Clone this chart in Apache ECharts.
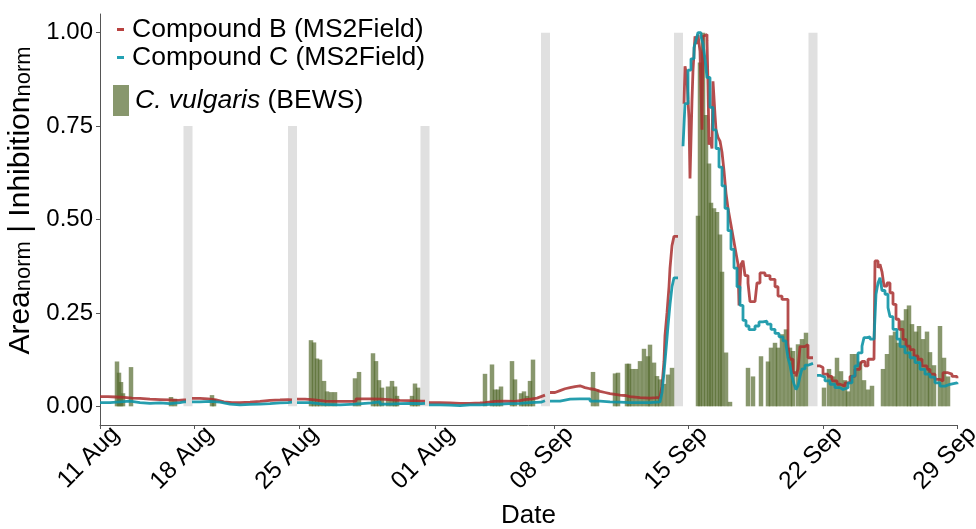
<!DOCTYPE html>
<html>
<head>
<meta charset="utf-8">
<script src="https://cdn.jsdelivr.net/npm/echarts@6/dist/echarts.min.js"></script>
<style>
  html, body { margin: 0; padding: 0; background: #fff; }
  #chart { width: 976px; height: 529px; }
</style>
</head>
<body>
<div id="chart"></div>
<script>
// x is the sample index of the record (the date axis is not linear in time)
var dateTicks = [0, 94, 199, 335, 454, 588, 723, 857];
var dateLabels = ["11 Aug", "18 Aug", "25 Aug", "01 Aug", "08 Sep", "15 Sep", "22 Sep", "29 Sep"];
var yTicks = [0, 0.25, 0.5, 0.75, 1];

// data gaps (grey bands): sample index and height
var gapIdx = [88, 192.5, 325, 445.5, 578.5, 713];
var gapVal = [0.75, 0.75, 0.75, 1, 1, 1];

// C. vulgaris inhibition (BEWS)
var vulgaris = [
  [17, 0.12], [19, 0.09], [21, 0.065], [23, 0.035], [31, 0.105], [71, 0.025], [75, 0.02],
  [112, 0.03], [114, 0.02],
  [211, 0.177], [214, 0.171], [217, 0.128], [220, 0.125], [224, 0.068], [227, 0.04], [231, 0.038], [235, 0.038],
  [255, 0.075], [259, 0.092], [273, 0.142], [276, 0.121], [279, 0.07], [282, 0.05],
  [288, 0.053], [292, 0.068], [295, 0.053], [297, 0.028], [312, 0.028], [315, 0.061], [318, 0.05],
  [385, 0.087], [392, 0.112], [395, 0.045], [398, 0.045], [401, 0.053], [412, 0.121], [415, 0.072],
  [421, 0.035], [424, 0.04], [427, 0.028], [430, 0.068], [433, 0.125],
  [493, 0.092], [497, 0.045], [515, 0.088], [518, 0.09],
  [527, 0.114], [529, 0.114], [532, 0.1], [536, 0.1], [540, 0.121], [544, 0.154], [548, 0.134], [550, 0.165],
  [554, 0.117], [557, 0.081], [560, 0.072], [564, 0.06], [568, 0.085], [572, 0.103],
  [598, 0.51], [600, 0.92], [603, 1.0], [606, 0.78], [609, 0.65], [611, 0.545], [614, 0.53], [617, 0.52],
  [620, 0.46], [622, 0.36], [626, 0.144], [630, 0.012],
  [648, 0.103], [653, 0.08], [661, 0.134], [668, 0.12], [671, 0.157], [675, 0.17], [678, 0.157], [682, 0.193],
  [686, 0.206], [690, 0.157], [693, 0.148], [698, 0.166], [702, 0.18], [706, 0.197],
  [724, 0.05], [729, 0.1], [733, 0.08], [737, 0.13], [741, 0.094], [745, 0.07], [748, 0.04], [752, 0.14],
  [756, 0.14], [760, 0.12], [764, 0.07], [768, 0.045], [772, 0.055],
  [783, 0.1], [787, 0.14], [791, 0.19], [795, 0.2], [798, 0.17], [802, 0.23], [806, 0.26], [809, 0.27],
  [812, 0.22], [816, 0.2], [819, 0.215], [823, 0.18], [827, 0.2], [830, 0.145], [834, 0.11], [840, 0.215],
  [844, 0.13], [848, 0.08]
];

// Compound B (MS2Field), null = no data
var compoundB = [
  [0, 0.026], [8, 0.025], [16, 0.024], [24, 0.022], [32, 0.021], [40, 0.019], [50, 0.018], [60, 0.017],
  [70, 0.016], [78, 0.017], [84, 0.017], [86, null],
  [92, 0.021], [100, 0.02], [108, 0.017], [116, 0.012], [124, 0.01], [132, 0.01], [140, 0.011], [150, 0.013],
  [160, 0.016], [170, 0.017], [180, 0.018], [188, 0.017], [192, null],
  [197, 0.019], [205, 0.018], [212, 0.014], [225, 0.013], [240, 0.013], [250, 0.014], [256, 0.02], [265, 0.02],
  [272, 0.019], [282, 0.017], [292, 0.016], [300, 0.015], [310, 0.014], [321, 0.014], [325, null],
  [329, 0.01], [340, 0.009], [350, 0.008], [360, 0.008], [370, 0.009], [380, 0.01], [385, 0.013], [395, 0.014],
  [405, 0.013], [415, 0.015], [420, 0.018], [425, 0.02], [432, 0.022], [437, 0.026], [441, 0.03], [445, null],
  [450, 0.037], [455, 0.042], [460, 0.047], [465, 0.05], [470, 0.053], [475, 0.055], [480, 0.05], [485, 0.047],
  [490, 0.045], [495, 0.04], [500, 0.037], [505, 0.034], [510, 0.032], [515, 0.03], [520, 0.029], [525, 0.026],
  [530, 0.023], [540, 0.022], [550, 0.023], [556, 0.024], [560, 0.026], [562, 0.054], [564, 0.12], [565, 0.19],
  [567, 0.25], [569, 0.32], [570, 0.37], [572, 0.43], [574, 0.455], [578, null],
  [584, 0.81], [585, 0.91], [587, 0.88], [588, 0.82], [589, 0.77], [590, 0.61], [592, 0.82], [593, 0.9],
  [595, 0.99], [597, 0.97], [598, 0.995], [600, 0.95], [602, 0.74], [603, 0.99], [605, 0.995], [607, 0.98],
  [608, 0.86], [609, 0.7], [610, 0.72], [612, 0.69], [613, 0.87], [615, 0.78], [616, 0.74], [618, 0.72],
  [620, 0.71], [622, 0.68], [624, 0.63], [626, 0.57], [628, 0.53], [630, 0.5], [632, 0.47], [634, 0.44],
  [636, 0.41], [638, 0.38], [639, 0.27], [641, 0.38], [643, 0.39], [645, 0.35], [648, 0.33], [650, 0.28],
  [655, 0.28], [657, 0.33], [660, 0.357], [665, 0.35], [670, 0.34], [675, 0.32], [678, 0.295], [682, 0.286],
  [688, 0.17], [689, 0.135], [690, 0.126], [693, 0.09], [696, 0.08], [698, 0.1], [700, 0.16], [705, 0.165],
  [708, 0.13], [713, null],
  [717, 0.108], [720, 0.104], [723, 0.086], [728, 0.08], [732, 0.068], [737, 0.059], [740, 0.054], [745, 0.063],
  [750, 0.08], [755, 0.099], [760, 0.112], [762, 0.12], [765, 0.108], [768, 0.126], [774, 0.126], [775, 0.389],
  [778, 0.371], [780, 0.38], [782, 0.36], [784, 0.322], [787, 0.33], [790, 0.304], [793, 0.273], [796, 0.233],
  [799, 0.206], [803, 0.179], [806, 0.161], [810, 0.152], [814, 0.135], [818, 0.126], [822, 0.108], [827, 0.099],
  [830, 0.086], [835, 0.072], [840, 0.068], [843, 0.09], [848, 0.086], [852, 0.08], [857, 0.075]
];

// Compound C (MS2Field)
var compoundC = [
  [0, 0.01], [10, 0.012], [20, 0.014], [30, 0.01], [40, 0.008], [50, 0.009], [60, 0.007], [70, 0.01],
  [80, 0.012], [84, 0.012], [86, null],
  [92, 0.012], [100, 0.013], [110, 0.011], [120, 0.006], [130, 0.004], [140, 0.005], [150, 0.006], [160, 0.007],
  [170, 0.009], [180, 0.01], [188, 0.011], [192, null],
  [197, 0.01], [210, 0.005], [225, 0.004], [240, 0.006], [255, 0.008], [265, 0.009], [272, 0.012], [280, 0.006],
  [290, 0.007], [300, 0.008], [310, 0.007], [321, 0.008], [325, null],
  [329, 0.004], [340, 0.003], [350, 0.002], [360, 0.004], [370, 0.004], [380, 0.005], [390, 0.006], [400, 0.007],
  [410, 0.008], [420, 0.01], [430, 0.011], [441, 0.015], [445, null],
  [450, 0.014], [460, 0.019], [470, 0.02], [480, 0.02], [490, 0.014], [500, 0.012], [510, 0.011], [520, 0.01],
  [530, 0.01], [540, 0.01], [550, 0.012], [560, 0.013], [562, 0.037], [564, 0.09], [566, 0.152], [568, 0.215],
  [570, 0.273], [572, 0.32], [574, 0.344], [578, null],
  [583, 0.696], [585, 0.81], [588, 0.9], [591, 0.93], [594, 0.96], [596, 0.98], [598, 1.0], [601, 0.99],
  [603, 0.97], [605, 0.93], [607, 0.88], [610, 0.8], [613, 0.74], [616, 0.69], [619, 0.64], [622, 0.59],
  [625, 0.53], [628, 0.47], [631, 0.42], [634, 0.37], [637, 0.32], [640, 0.27], [643, 0.23], [646, 0.215],
  [649, 0.205], [652, 0.205], [655, 0.215], [659, 0.226], [663, 0.228], [667, 0.22], [671, 0.206], [675, 0.195],
  [679, 0.186], [683, 0.175], [686, 0.165], [688, 0.13], [690, 0.11], [692, 0.08], [694, 0.06], [696, 0.045],
  [698, 0.055], [700, 0.08], [702, 0.1], [705, 0.11], [708, 0.115], [713, null],
  [717, 0.083], [720, 0.078], [725, 0.068], [730, 0.059], [735, 0.05], [740, 0.045], [743, 0.05], [748, 0.063],
  [752, 0.081], [755, 0.108], [758, 0.143], [762, 0.161], [764, 0.184], [767, 0.186], [770, 0.18], [774, 0.184],
  [776, 0.3], [778, 0.33], [780, 0.344], [782, 0.31], [785, 0.3], [788, 0.264], [790, 0.24], [793, 0.206],
  [797, 0.18], [800, 0.16], [805, 0.143], [810, 0.13], [815, 0.117], [820, 0.099], [825, 0.086], [830, 0.078],
  [835, 0.063], [840, 0.054], [845, 0.059], [850, 0.063], [857, 0.059]
];

var chartDom = document.getElementById("chart");
var myChart = echarts.init(chartDom, null, { renderer: "canvas" });
var option;

var font = "Liberation Sans";

option = {
  animation: false,
  backgroundColor: "#fff",
  textStyle: { fontFamily: font },
  grid: { left: 100, right: 19, top: 14, bottom: 104, outerBoundsMode: "none" },
  legend: [
    {
      data: ["Compound B (MS2Field)", "Compound C (MS2Field)"],
      orient: "vertical",
      left: 112,
      top: 11,
      itemGap: 1,
      itemWidth: 7,
      itemHeight: 3,
      icon: "rect",
      selectedMode: false,
      textStyle: { fontSize: 26.5, lineHeight: 25, color: "#000", padding: [0, 0, 0, 3], fontFamily: font },
    },
    {
      data: ["C. vulgaris (BEWS)"],
      orient: "vertical",
      left: 108,
      top: 80,
      itemWidth: 16,
      itemHeight: 31,
      icon: "rect",
      selectedMode: false,
      formatter: "{i|C. vulgaris} (BEWS)",
      textStyle: {
        fontSize: 26.5,
        color: "#000",
        padding: [0, 0, 0, 1],
        fontFamily: font,
        rich: { i: { fontSize: 26.5, fontStyle: "italic", fontFamily: font, color: "#000" } },
      },
    },
  ],
  xAxis: [
    {
      type: "value",
      min: 0,
      max: 857,
      name: "Date",
      nameLocation: "middle",
      nameGap: 78,
      nameMoveOverlap: false,
      nameTextStyle: { fontSize: 26, color: "#000" },
      axisLine: { onZero: false, lineStyle: { color: "#555", width: 1 } },
      axisTick: { customValues: dateTicks, length: 4, lineStyle: { color: "#555" } },
      axisLabel: {
        customValues: dateTicks,
        rotate: 45,
        fontSize: 24.5,
        color: "#000",
        verticalAlign: "top",
        lineHeight: 44,
        margin: -10,
        formatter: function (v) {
          var i = dateTicks.indexOf(v);
          return i >= 0 ? dateLabels[i] : "";
        },
      },
      splitLine: { show: false },
    },
    {
      type: "value",
      min: 0,
      max: 857,
      show: false,
    },
  ],
  yAxis: {
    type: "value",
    min: -0.05,
    max: 1.05,
    name: "{m|Area}{s|norm}{m| | Inhibition}{s|norm}",
    nameLocation: "middle",
    nameGap: 58,
    nameTextStyle: {
      color: "#000",
      padding: [0, 0, 0, 38],
      rich: {
        m: { fontSize: 30, lineHeight: 30, verticalAlign: "top", color: "#000", fontFamily: font },
        s: { fontSize: 22, lineHeight: 22, verticalAlign: "bottom", color: "#000", fontFamily: font },
      },
    },
    axisLine: { show: true, lineStyle: { color: "#555", width: 1 } },
    axisTick: { show: true, customValues: yTicks, length: 4, lineStyle: { color: "#555" } },
    axisLabel: {
      customValues: yTicks,
      fontSize: 24,
      color: "#000",
      margin: 7,
      formatter: function (v) {
        return v.toFixed(2);
      },
    },
    splitLine: { show: false },
  },
  series: [
    {
      name: "gaps",
      type: "bar",
      xAxisIndex: 1,
      barWidth: 9,
      itemStyle: { color: "#e0e0e0" },
      data: gapIdx.map(function (x, i) {
        return [x, gapVal[i]];
      }),
      z: 1,
    },
    {
      name: "C. vulgaris (BEWS)",
      type: "bar",
      xAxisIndex: 0,
      barWidth: 4.5,
      itemStyle: { color: "#556B2F", opacity: 0.7 },
      data: vulgaris,
      z: 2,
    },
    {
      name: "Compound B (MS2Field)",
      type: "line",
      step: "end",
      showSymbol: false,
      connectNulls: false,
      lineStyle: { color: "#A82E2E", width: 2.8, opacity: 0.85 },
      itemStyle: { color: "#B8413F" },
      data: compoundB,
      z: 3,
    },
    {
      name: "Compound C (MS2Field)",
      type: "line",
      step: "end",
      showSymbol: false,
      connectNulls: false,
      lineStyle: { color: "#0E93A5", width: 2.8, opacity: 0.9 },
      itemStyle: { color: "#23A1B3" },
      data: compoundC,
      z: 4,
    },
  ],
};

option && myChart.setOption(option);
</script>
</body>
</html>
